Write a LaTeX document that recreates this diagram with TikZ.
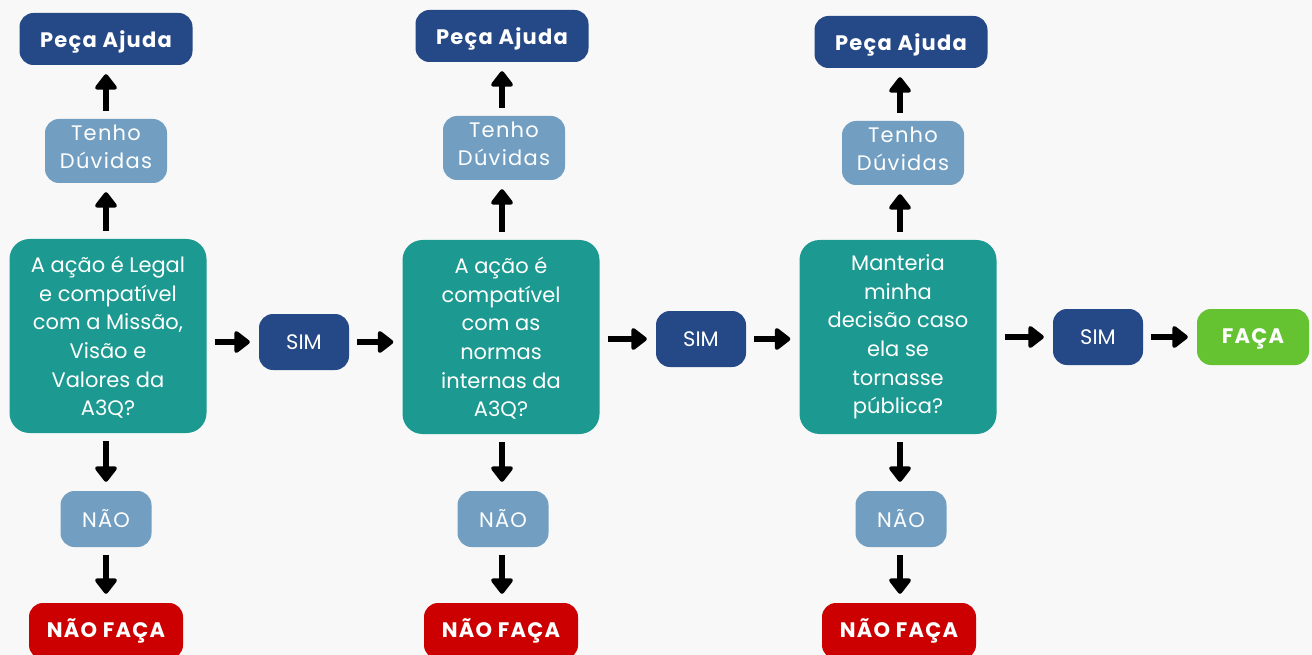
\documentclass[tikz,border=0pt]{standalone}
\usepackage{fontspec}
\setmainfont{Poppins}
\newfontfamily\spacedfont[LetterSpace=6]{Poppins}
\usetikzlibrary{arrows.meta}

\definecolor{bgGray}{HTML}{F8F8F8}
\definecolor{navyBox}{HTML}{254886}
\definecolor{paleBox}{HTML}{729FC1}
\definecolor{tealBox}{HTML}{1C9990}
\definecolor{redBox}{HTML}{CC0000}
\definecolor{greenBox}{HTML}{65C332}

\begin{document}
\begin{tikzpicture}[x = 1pt, y = -1pt, > = {Triangle[width = 25pt, length = 17pt, round]},
        every node/.style = {text = white, inner sep = 0pt, align = center},
        askbox/.style = {fill = navyBox, rounded corners = 14pt, minimum width = 173pt, minimum height = 52pt,
            text depth = 0pt, font = \spacedfont\bfseries\fontsize{21}{24}\selectfont},
        doubtbox/.style = {fill = paleBox, rounded corners = 14pt, minimum width = 122pt, minimum height = 64pt,
            text depth = 8pt, font = \spacedfont\fontsize{21}{28}\selectfont},
        questionbox/.style = {fill = tealBox, rounded corners = 20pt, minimum width = 197pt, minimum height = 194pt,
            font = \fontsize{21}{28.6}\selectfont},
        nobox/.style = {fill = paleBox, rounded corners = 14pt, minimum width = 91pt, minimum height = 56pt,
            font = \spacedfont\fontsize{21}{24}\selectfont},
        stopbox/.style = {fill = redBox, rounded corners = 14pt, minimum width = 154pt, minimum height = 56pt,
            font = \spacedfont\bfseries\fontsize{21}{24}\selectfont},
        yesbox/.style = {fill = navyBox, rounded corners = 14pt, minimum width = 90pt, minimum height = 56pt,
            font = \fontsize{21}{24}\selectfont},
        gobox/.style = {fill = greenBox, rounded corners = 14pt, minimum width = 112pt, minimum height = 56pt,
            text depth = 1pt, font = \spacedfont\bfseries\fontsize{21}{24}\selectfont},
        flow/.style = {->, line width = 6pt, shorten < = 8pt, shorten > = 9pt}]

            \fill[bgGray] (0, 0) rectangle (1312, 655);
            \useasboundingbox (0, 0) rectangle (1312, 655);
            \clip (0, 0) rectangle (1312, 655);

            \node[askbox] (ask1) at (106, 39) {Peça Ajuda};
            \node[doubtbox] (doubt1) at (106, 151) {Tenho\\Dúvidas};
            \node[questionbox, text depth = -12pt] (q1) at (108, 336) {A ação é Legal\\e compatível\\com a Missão,\\Visão e\\Valores da\\A3Q?};
            \node[nobox] (no1) at (106, 519) {NÃO};
            \node[stopbox] (stop1) at (106, 631) {NÃO FAÇA};
            \node[yesbox] (yes1) at (304, 342) {SIM};

            \node[askbox] (ask2) at (502, 36) {Peça Ajuda};
            \node[doubtbox] (doubt2) at (504, 148) {Tenho\\Dúvidas};
            \node[questionbox, text depth = -12pt] (q2) at (501, 337) {A ação é\\compatível\\com as\\normas\\internas da\\A3Q?};
            \node[nobox] (no2) at (503, 519) {NÃO};
            \node[stopbox] (stop2) at (501, 631) {NÃO FAÇA};
            \node[yesbox] (yes2) at (701, 339) {SIM};

            \node[askbox] (ask3) at (901, 42) {Peça Ajuda};
            \node[doubtbox] (doubt3) at (903, 153) {Tenho\\Dúvidas};
            \node[questionbox] (q3) at (898, 337) {Manteria\\minha\\decisão caso\\ela se\\tornasse\\pública?};
            \node[nobox] (no3) at (901, 519) {NÃO};
            \node[stopbox] (stop3) at (899, 631) {NÃO FAÇA};
            \node[yesbox] (yes3) at (1098, 337) {SIM};
            \node[gobox] (go) at (1253, 337) {FAÇA};

            \draw[flow] (q1.north -| doubt1) -- (doubt1);
            \draw[flow] (doubt1) -- (ask1);
            \draw[flow] (q1.south -| no1) -- (no1);
            \draw[flow] (no1) -- (stop1);
            \draw[flow] (q1.east |- yes1) -- (yes1);
            \draw[flow] (yes1) -- (q2.west |- yes1);

            \draw[flow] (q2.north -| ask2) -- (doubt2.south -| ask2);
            \draw[flow] (doubt2.north -| ask2) -- (ask2);
            \draw[flow] (q2.south -| ask2) -- (no2.north -| ask2);
            \draw[flow] (no2.south -| ask2) -- (stop2.north -| ask2);
            \draw[flow] (q2.east |- yes2) -- (yes2);
            \draw[flow] (yes2) -- (q3.west |- yes2);

            \draw[flow] (q3.north -| 900, 0) -- (doubt3.south -| 900, 0);
            \draw[flow] (doubt3.north -| 900, 0) -- (ask3.south -| 900, 0);
            \draw[flow] (q3.south -| 900, 0) -- (no3.north -| 900, 0);
            \draw[flow] (no3.south -| 900, 0) -- (stop3.north -| 900, 0);
            \draw[flow] (q3.east |- yes3) -- (yes3);
            \draw[flow] (yes3) -- (go);

        \end{tikzpicture}
\end{document}
